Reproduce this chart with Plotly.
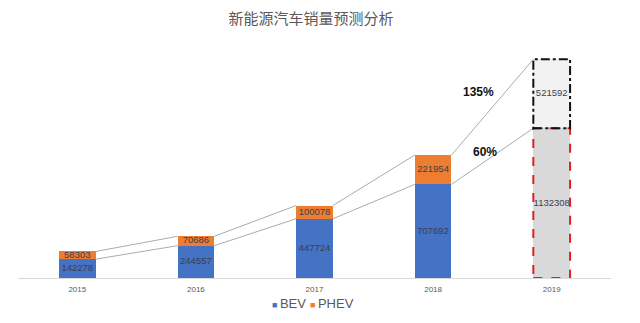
import plotly.graph_objects as go

# Sales data (units)
years = ["2015", "2016", "2017", "2018", "2019"]
bev = [142278, 244557, 447724, 707692]
phev = [58303, 70686, 100078, 221954]
bev_2019 = 1132308
phev_2019 = 521592
growth_labels = ["135%", "60%"]
series_names = ["BEV", "PHEV"]

BLUE = "#4472C4"
ORANGE = "#ED7D31"
TEXT = "#595959"
HALF = 0.155  # half bar width
FONT = "Liberation Sans, Arial"

xs = list(range(len(years)))
hist_x = xs[:len(bev)]
fx = xs[-1]

fig = go.Figure()

fig.add_bar(x=hist_x, y=bev, name=series_names[0], showlegend=False,
            marker=dict(color=BLUE, line=dict(width=0)), width=2 * HALF)
fig.add_bar(x=hist_x, y=phev, name=series_names[1], showlegend=False,
            marker=dict(color=ORANGE, line=dict(width=0)), width=2 * HALF)
fig.add_bar(x=[fx], y=[bev_2019], showlegend=False,
            marker=dict(color="#D9D9D9", line=dict(width=0)), width=2 * HALF)
fig.add_bar(x=[fx], y=[phev_2019], showlegend=False,
            marker=dict(color="#F2F2F2", line=dict(width=0)), width=2 * HALF)

# Series lines joining the bar tops
bev_all = bev + [bev_2019]
tot_all = [b + p for b, p in zip(bev, phev)] + [bev_2019 + phev_2019]
for series in (bev_all, tot_all):
    lx, ly = [], []
    for i in range(len(series) - 1):
        lx += [xs[i] + HALF, xs[i + 1] - HALF, None]
        ly += [series[i], series[i + 1], None]
    fig.add_scatter(x=lx, y=ly, mode="lines", showlegend=False, hoverinfo="skip",
                    line=dict(color="#ABABAB", width=1))

# Value labels centred in each segment
lab_x, lab_y, lab_t = [], [], []
for i, (b, p) in enumerate(zip(bev, phev)):
    lab_x += [i, i]
    lab_y += [b / 2, b + p / 2]
    lab_t += [str(b), str(p)]
lab_x += [fx, fx]
lab_y += [bev_2019 / 2, bev_2019 + phev_2019 / 2]
lab_t += [str(bev_2019), str(phev_2019)]
fig.add_scatter(x=lab_x, y=lab_y, text=lab_t, mode="text", showlegend=False,
                hoverinfo="skip",
                textfont=dict(family=FONT, size=9.5, color="#3A3F4F"))

# Forecast outlines
fig.add_shape(type="rect", xref="x", yref="y", x0=fx - HALF, x1=fx + HALF, y0=0, y1=bev_2019,
              line=dict(color="#E02020", width=2, dash="dash"), fillcolor="rgba(0,0,0,0)")
fig.add_shape(type="rect", xref="x", yref="y", x0=fx - HALF, x1=fx + HALF, y0=bev_2019,
              y1=bev_2019 + phev_2019,
              line=dict(color="#111111", width=2, dash="dashdot"), fillcolor="rgba(0,0,0,0)")

# Growth annotations
fig.add_annotation(x=0.776, y=0.816, xref="paper", yref="paper", xanchor="center",
                   yanchor="middle", text="<b>" + growth_labels[0] + "</b>", showarrow=False,
                   font=dict(family=FONT, size=12, color="#111111"))
fig.add_annotation(x=0.788, y=0.553, xref="paper", yref="paper", xanchor="center",
                   yanchor="middle", text="<b>" + growth_labels[1] + "</b>", showarrow=False,
                   font=dict(family=FONT, size=12, color="#111111"))

# Legend row at the bottom
for px, name, col in ((270, series_names[0], BLUE), (308, series_names[1], ORANGE)):
    fig.add_annotation(
        x=(px - 18) / 593, y=-0.112, xref="paper", yref="paper",
        xanchor="left", yanchor="middle", showarrow=False,
        text=f"<span style='color:{col};font-size:9px'>■ </span>{name}",
        font=dict(family=FONT, size=13, color=TEXT))

fig.update_layout(
    width=640, height=323,
    margin=dict(l=18, r=29, t=50, b=45),
    paper_bgcolor="white", plot_bgcolor="white",
    barmode="stack",
    showlegend=False,
    title=dict(text="新能源汽车销量预测分析", x=0.486, xanchor="center",
               y=1 - 19 / 323, yanchor="middle", yref="container",
               font=dict(family="Noto Sans CJK SC", size=15, color=TEXT)),
    xaxis=dict(tickmode="array", tickvals=xs, ticktext=years, range=[-0.5, len(years) - 0.5],
               showline=True, linecolor="#D9D9D9", linewidth=1, showgrid=False, zeroline=False,
               ticks="", ticklabelstandoff=3,
               tickfont=dict(family=FONT, size=8, color=TEXT)),
    yaxis=dict(range=[0, 1724000], visible=False, showgrid=False, zeroline=False),
)

fig.write_html("out.html")
